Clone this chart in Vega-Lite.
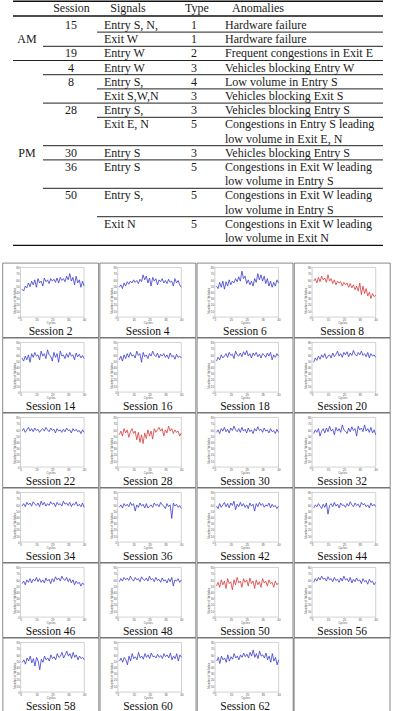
{
"$schema":"https://vega.github.io/schema/vega-lite/v6.json",
"padding":0,
"background":"white",
"spacing":-2.4,
"center":true,
"config":{
 "view":{"stroke":null},
 "font":"Liberation Serif",
 "header":{"labels":false,"labelExpr":"''","labelFontSize":0,"title":null,"labelPadding":0,"titlePadding":0},
 "headerFacet":{"labels":false,"labelExpr":"''","labelFontSize":0,"title":null,"labelPadding":0,"titlePadding":0},
 "axis":{"domain":false,"grid":false,"labelFontSize":3,"titleFontSize":3,"labelColor":"#555","titleColor":"#555","tickColor":"#999","tickSize":1,"tickWidth":0.5,"labelPadding":0.3,"titlePadding":0,"labelOverlap":false,"labelFlush":false,"titleFontWeight":"normal","labelFont":"Liberation Sans","titleFont":"Liberation Sans"},
 "axisX":{"offset":-20.3},
 "axisY":{"offset":-17.9}
},
"datasets":{
"tab":[
{"r":-1,"s":"Session","g":"Signals","t":"Type","a":"Anomalies"},
{"r":0,"s":"15","g":"Entry S, N,","t":"1","a":"Hardware failure"},
{"r":1,"p":"AM","g":"Exit W","t":"1","a":"Hardware failure","rule":"signal"},
{"r":2,"s":"19","g":"Entry W","t":"2","a":"Frequent congestions in Exit E","rule":"session"},
{"r":3,"s":"4","g":"Entry W","t":"3","a":"Vehicles blocking Entry W","rule":"full"},
{"r":4,"s":"8","g":"Entry S,","t":"4","a":"Low volume in Entry S","rule":"session"},
{"r":5,"g":"Exit S,W,N","t":"3","a":"Vehicles blocking Exit S","rule":"signal"},
{"r":6,"s":"28","g":"Entry S,","t":"3","a":"Vehicles blocking Entry S","rule":"session"},
{"r":7,"g":"Exit E, N","t":"5","a":"Congestions in Entry S leading","rule":"signal"},
{"r":8,"a":"low volume in Exit E, N"},
{"r":9,"p":"PM","s":"30","g":"Entry S","t":"3","a":"Vehicles blocking Entry S","rule":"session"},
{"r":10,"s":"36","g":"Entry S","t":"5","a":"Congestions in Exit W leading","rule":"session"},
{"r":11,"a":"low volume in Entry S"},
{"r":12,"s":"50","g":"Entry S,","t":"5","a":"Congestions in Exit W leading","rule":"session"},
{"r":13,"a":"low volume in Entry S"},
{"r":14,"g":"Exit N","t":"5","a":"Congestions in Exit W leading","rule":"signal"},
{"r":15,"a":"low volume in Exit N"}
],
"sess":[
{"n":2,"lab":"Session 2","st":"normal"},{"n":4,"lab":"Session 4","st":"normal"},{"n":6,"lab":"Session 6","st":"normal"},{"n":8,"lab":"Session 8","st":"anomaly"},
{"n":14,"lab":"Session 14","st":"normal"},{"n":16,"lab":"Session 16","st":"normal"},{"n":18,"lab":"Session 18","st":"normal"},{"n":20,"lab":"Session 20","st":"normal"},
{"n":22,"lab":"Session 22","st":"normal"},{"n":28,"lab":"Session 28","st":"anomaly"},{"n":30,"lab":"Session 30","st":"normal"},{"n":32,"lab":"Session 32","st":"normal"},
{"n":34,"lab":"Session 34","st":"normal"},{"n":36,"lab":"Session 36","st":"normal"},{"n":42,"lab":"Session 42","st":"normal"},{"n":44,"lab":"Session 44","st":"normal"},
{"n":46,"lab":"Session 46","st":"normal"},{"n":48,"lab":"Session 48","st":"normal"},{"n":50,"lab":"Session 50","st":"anomaly"},{"n":56,"lab":"Session 56","st":"normal"},
{"n":58,"lab":"Session 58","st":"normal"},{"n":60,"lab":"Session 60","st":"normal"},{"n":62,"lab":"Session 62","st":"normal"}
],
"ts":[
{"n":2,"x":1,"y":45},{"n":2,"x":2,"y":42},{"n":2,"x":3,"y":50},{"n":2,"x":4,"y":47},{"n":2,"x":5,"y":55},{"n":2,"x":6,"y":49},{"n":2,"x":7,"y":58},{"n":2,"x":8,"y":52},{"n":2,"x":9,"y":60},{"n":2,"x":10,"y":48},
{"n":2,"x":11,"y":62},{"n":2,"x":12,"y":55},{"n":2,"x":13,"y":58},{"n":2,"x":14,"y":50},{"n":2,"x":15,"y":63},{"n":2,"x":16,"y":57},{"n":2,"x":17,"y":60},{"n":2,"x":18,"y":54},{"n":2,"x":19,"y":62},{"n":2,"x":20,"y":58},
{"n":2,"x":21,"y":61},{"n":2,"x":22,"y":56},{"n":2,"x":23,"y":63},{"n":2,"x":24,"y":55},{"n":2,"x":25,"y":64},{"n":2,"x":26,"y":59},{"n":2,"x":27,"y":62},{"n":2,"x":28,"y":57},{"n":2,"x":29,"y":66},{"n":2,"x":30,"y":60},
{"n":2,"x":31,"y":70},{"n":2,"x":32,"y":58},{"n":2,"x":33,"y":64},{"n":2,"x":34,"y":52},{"n":2,"x":35,"y":66},{"n":2,"x":36,"y":55},{"n":2,"x":37,"y":60},{"n":2,"x":38,"y":48},{"n":2,"x":39,"y":58},{"n":2,"x":40,"y":50},
{"n":4,"x":1,"y":48},{"n":4,"x":2,"y":52},{"n":4,"x":3,"y":46},{"n":4,"x":4,"y":55},{"n":4,"x":5,"y":50},{"n":4,"x":6,"y":57},{"n":4,"x":7,"y":53},{"n":4,"x":8,"y":58},{"n":4,"x":9,"y":55},{"n":4,"x":10,"y":60},
{"n":4,"x":11,"y":56},{"n":4,"x":12,"y":59},{"n":4,"x":13,"y":54},{"n":4,"x":14,"y":61},{"n":4,"x":15,"y":57},{"n":4,"x":16,"y":68},{"n":4,"x":17,"y":60},{"n":4,"x":18,"y":66},{"n":4,"x":19,"y":55},{"n":4,"x":20,"y":63},
{"n":4,"x":21,"y":50},{"n":4,"x":22,"y":64},{"n":4,"x":23,"y":58},{"n":4,"x":24,"y":62},{"n":4,"x":25,"y":52},{"n":4,"x":26,"y":60},{"n":4,"x":27,"y":57},{"n":4,"x":28,"y":62},{"n":4,"x":29,"y":55},{"n":4,"x":30,"y":59},
{"n":4,"x":31,"y":54},{"n":4,"x":32,"y":61},{"n":4,"x":33,"y":56},{"n":4,"x":34,"y":58},{"n":4,"x":35,"y":50},{"n":4,"x":36,"y":62},{"n":4,"x":37,"y":55},{"n":4,"x":38,"y":59},{"n":4,"x":39,"y":52},{"n":4,"x":40,"y":48},
{"n":6,"x":1,"y":50},{"n":6,"x":2,"y":46},{"n":6,"x":3,"y":56},{"n":6,"x":4,"y":48},{"n":6,"x":5,"y":58},{"n":6,"x":6,"y":45},{"n":6,"x":7,"y":57},{"n":6,"x":8,"y":50},{"n":6,"x":9,"y":60},{"n":6,"x":10,"y":52},
{"n":6,"x":11,"y":58},{"n":6,"x":12,"y":55},{"n":6,"x":13,"y":62},{"n":6,"x":14,"y":57},{"n":6,"x":15,"y":65},{"n":6,"x":16,"y":58},{"n":6,"x":17,"y":74},{"n":6,"x":18,"y":62},{"n":6,"x":19,"y":66},{"n":6,"x":20,"y":54},
{"n":6,"x":21,"y":60},{"n":6,"x":22,"y":52},{"n":6,"x":23,"y":58},{"n":6,"x":24,"y":50},{"n":6,"x":25,"y":62},{"n":6,"x":26,"y":56},{"n":6,"x":27,"y":70},{"n":6,"x":28,"y":60},{"n":6,"x":29,"y":68},{"n":6,"x":30,"y":58},
{"n":6,"x":31,"y":66},{"n":6,"x":32,"y":54},{"n":6,"x":33,"y":62},{"n":6,"x":34,"y":50},{"n":6,"x":35,"y":58},{"n":6,"x":36,"y":48},{"n":6,"x":37,"y":56},{"n":6,"x":38,"y":50},{"n":6,"x":39,"y":60},{"n":6,"x":40,"y":55},
{"n":8,"x":1,"y":58},{"n":8,"x":2,"y":62},{"n":8,"x":3,"y":55},{"n":8,"x":4,"y":64},{"n":8,"x":5,"y":57},{"n":8,"x":6,"y":66},{"n":8,"x":7,"y":60},{"n":8,"x":8,"y":63},{"n":8,"x":9,"y":56},{"n":8,"x":10,"y":68},
{"n":8,"x":11,"y":58},{"n":8,"x":12,"y":62},{"n":8,"x":13,"y":54},{"n":8,"x":14,"y":60},{"n":8,"x":15,"y":52},{"n":8,"x":16,"y":58},{"n":8,"x":17,"y":55},{"n":8,"x":18,"y":57},{"n":8,"x":19,"y":50},{"n":8,"x":20,"y":56},
{"n":8,"x":21,"y":52},{"n":8,"x":22,"y":55},{"n":8,"x":23,"y":48},{"n":8,"x":24,"y":54},{"n":8,"x":25,"y":47},{"n":8,"x":26,"y":52},{"n":8,"x":27,"y":44},{"n":8,"x":28,"y":50},{"n":8,"x":29,"y":42},{"n":8,"x":30,"y":55},
{"n":8,"x":31,"y":36},{"n":8,"x":32,"y":50},{"n":8,"x":33,"y":38},{"n":8,"x":34,"y":46},{"n":8,"x":35,"y":34},{"n":8,"x":36,"y":40},{"n":8,"x":37,"y":30},{"n":8,"x":38,"y":38},{"n":8,"x":39,"y":33},{"n":8,"x":40,"y":35},
{"n":14,"x":1,"y":55},{"n":14,"x":2,"y":50},{"n":14,"x":3,"y":58},{"n":14,"x":4,"y":52},{"n":14,"x":5,"y":60},{"n":14,"x":6,"y":48},{"n":14,"x":7,"y":62},{"n":14,"x":8,"y":56},{"n":14,"x":9,"y":64},{"n":14,"x":10,"y":58},
{"n":14,"x":11,"y":60},{"n":14,"x":12,"y":52},{"n":14,"x":13,"y":66},{"n":14,"x":14,"y":58},{"n":14,"x":15,"y":62},{"n":14,"x":16,"y":54},{"n":14,"x":17,"y":68},{"n":14,"x":18,"y":60},{"n":14,"x":19,"y":58},{"n":14,"x":20,"y":50},
{"n":14,"x":21,"y":64},{"n":14,"x":22,"y":56},{"n":14,"x":23,"y":62},{"n":14,"x":24,"y":48},{"n":14,"x":25,"y":66},{"n":14,"x":26,"y":58},{"n":14,"x":27,"y":60},{"n":14,"x":28,"y":54},{"n":14,"x":29,"y":62},{"n":14,"x":30,"y":56},
{"n":14,"x":31,"y":64},{"n":14,"x":32,"y":58},{"n":14,"x":33,"y":60},{"n":14,"x":34,"y":52},{"n":14,"x":35,"y":63},{"n":14,"x":36,"y":57},{"n":14,"x":37,"y":61},{"n":14,"x":38,"y":55},{"n":14,"x":39,"y":59},{"n":14,"x":40,"y":54},
{"n":16,"x":1,"y":52},{"n":16,"x":2,"y":58},{"n":16,"x":3,"y":50},{"n":16,"x":4,"y":60},{"n":16,"x":5,"y":54},{"n":16,"x":6,"y":62},{"n":16,"x":7,"y":56},{"n":16,"x":8,"y":64},{"n":16,"x":9,"y":58},{"n":16,"x":10,"y":60},
{"n":16,"x":11,"y":55},{"n":16,"x":12,"y":66},{"n":16,"x":13,"y":59},{"n":16,"x":14,"y":62},{"n":16,"x":15,"y":48},{"n":16,"x":16,"y":64},{"n":16,"x":17,"y":57},{"n":16,"x":18,"y":60},{"n":16,"x":19,"y":54},{"n":16,"x":20,"y":62},
{"n":16,"x":21,"y":58},{"n":16,"x":22,"y":66},{"n":16,"x":23,"y":60},{"n":16,"x":24,"y":57},{"n":16,"x":25,"y":63},{"n":16,"x":26,"y":55},{"n":16,"x":27,"y":61},{"n":16,"x":28,"y":58},{"n":16,"x":29,"y":62},{"n":16,"x":30,"y":56},
{"n":16,"x":31,"y":60},{"n":16,"x":32,"y":54},{"n":16,"x":33,"y":63},{"n":16,"x":34,"y":57},{"n":16,"x":35,"y":59},{"n":16,"x":36,"y":53},{"n":16,"x":37,"y":61},{"n":16,"x":38,"y":56},{"n":16,"x":39,"y":58},{"n":16,"x":40,"y":55},
{"n":18,"x":1,"y":50},{"n":18,"x":2,"y":56},{"n":18,"x":3,"y":52},{"n":18,"x":4,"y":60},{"n":18,"x":5,"y":55},{"n":18,"x":6,"y":58},{"n":18,"x":7,"y":62},{"n":18,"x":8,"y":56},{"n":18,"x":9,"y":64},{"n":18,"x":10,"y":59},
{"n":18,"x":11,"y":61},{"n":18,"x":12,"y":54},{"n":18,"x":13,"y":66},{"n":18,"x":14,"y":60},{"n":18,"x":15,"y":58},{"n":18,"x":16,"y":63},{"n":18,"x":17,"y":57},{"n":18,"x":18,"y":65},{"n":18,"x":19,"y":60},{"n":18,"x":20,"y":67},
{"n":18,"x":21,"y":58},{"n":18,"x":22,"y":62},{"n":18,"x":23,"y":55},{"n":18,"x":24,"y":63},{"n":18,"x":25,"y":59},{"n":18,"x":26,"y":64},{"n":18,"x":27,"y":57},{"n":18,"x":28,"y":61},{"n":18,"x":29,"y":55},{"n":18,"x":30,"y":62},
{"n":18,"x":31,"y":60},{"n":18,"x":32,"y":56},{"n":18,"x":33,"y":63},{"n":18,"x":34,"y":58},{"n":18,"x":35,"y":64},{"n":18,"x":36,"y":52},{"n":18,"x":37,"y":60},{"n":18,"x":38,"y":56},{"n":18,"x":39,"y":62},{"n":18,"x":40,"y":58},
{"n":20,"x":1,"y":48},{"n":20,"x":2,"y":55},{"n":20,"x":3,"y":51},{"n":20,"x":4,"y":58},{"n":20,"x":5,"y":53},{"n":20,"x":6,"y":60},{"n":20,"x":7,"y":56},{"n":20,"x":8,"y":62},{"n":20,"x":9,"y":54},{"n":20,"x":10,"y":58},
{"n":20,"x":11,"y":60},{"n":20,"x":12,"y":55},{"n":20,"x":13,"y":63},{"n":20,"x":14,"y":57},{"n":20,"x":15,"y":61},{"n":20,"x":16,"y":66},{"n":20,"x":17,"y":58},{"n":20,"x":18,"y":62},{"n":20,"x":19,"y":56},{"n":20,"x":20,"y":64},
{"n":20,"x":21,"y":60},{"n":20,"x":22,"y":65},{"n":20,"x":23,"y":57},{"n":20,"x":24,"y":63},{"n":20,"x":25,"y":59},{"n":20,"x":26,"y":67},{"n":20,"x":27,"y":61},{"n":20,"x":28,"y":58},{"n":20,"x":29,"y":64},{"n":20,"x":30,"y":60},
{"n":20,"x":31,"y":66},{"n":20,"x":32,"y":59},{"n":20,"x":33,"y":62},{"n":20,"x":34,"y":57},{"n":20,"x":35,"y":64},{"n":20,"x":36,"y":55},{"n":20,"x":37,"y":62},{"n":20,"x":38,"y":58},{"n":20,"x":39,"y":60},{"n":20,"x":40,"y":56},
{"n":22,"x":1,"y":58},{"n":22,"x":2,"y":62},{"n":22,"x":3,"y":56},{"n":22,"x":4,"y":60},{"n":22,"x":5,"y":64},{"n":22,"x":6,"y":58},{"n":22,"x":7,"y":62},{"n":22,"x":8,"y":57},{"n":22,"x":9,"y":63},{"n":22,"x":10,"y":59},
{"n":22,"x":11,"y":61},{"n":22,"x":12,"y":56},{"n":22,"x":13,"y":60},{"n":22,"x":14,"y":62},{"n":22,"x":15,"y":58},{"n":22,"x":16,"y":64},{"n":22,"x":17,"y":60},{"n":22,"x":18,"y":57},{"n":22,"x":19,"y":63},{"n":22,"x":20,"y":59},
{"n":22,"x":21,"y":61},{"n":22,"x":22,"y":55},{"n":22,"x":23,"y":62},{"n":22,"x":24,"y":58},{"n":22,"x":25,"y":60},{"n":22,"x":26,"y":56},{"n":22,"x":27,"y":61},{"n":22,"x":28,"y":57},{"n":22,"x":29,"y":63},{"n":22,"x":30,"y":59},
{"n":22,"x":31,"y":60},{"n":22,"x":32,"y":55},{"n":22,"x":33,"y":62},{"n":22,"x":34,"y":58},{"n":22,"x":35,"y":61},{"n":22,"x":36,"y":57},{"n":22,"x":37,"y":59},{"n":22,"x":38,"y":54},{"n":22,"x":39,"y":60},{"n":22,"x":40,"y":56},
{"n":28,"x":1,"y":52},{"n":28,"x":2,"y":58},{"n":28,"x":3,"y":50},{"n":28,"x":4,"y":62},{"n":28,"x":5,"y":55},{"n":28,"x":6,"y":60},{"n":28,"x":7,"y":48},{"n":28,"x":8,"y":57},{"n":28,"x":9,"y":62},{"n":28,"x":10,"y":54},
{"n":28,"x":11,"y":58},{"n":28,"x":12,"y":44},{"n":28,"x":13,"y":56},{"n":28,"x":14,"y":40},{"n":28,"x":15,"y":52},{"n":28,"x":16,"y":38},{"n":28,"x":17,"y":55},{"n":28,"x":18,"y":46},{"n":28,"x":19,"y":60},{"n":28,"x":20,"y":50},
{"n":28,"x":21,"y":58},{"n":28,"x":22,"y":45},{"n":28,"x":23,"y":62},{"n":28,"x":24,"y":56},{"n":28,"x":25,"y":60},{"n":28,"x":26,"y":64},{"n":28,"x":27,"y":58},{"n":28,"x":28,"y":62},{"n":28,"x":29,"y":50},{"n":28,"x":30,"y":60},
{"n":28,"x":31,"y":55},{"n":28,"x":32,"y":66},{"n":28,"x":33,"y":58},{"n":28,"x":34,"y":62},{"n":28,"x":35,"y":54},{"n":28,"x":36,"y":60},{"n":28,"x":37,"y":56},{"n":28,"x":38,"y":58},{"n":28,"x":39,"y":50},{"n":28,"x":40,"y":55},
{"n":30,"x":1,"y":56},{"n":30,"x":2,"y":60},{"n":30,"x":3,"y":54},{"n":30,"x":4,"y":62},{"n":30,"x":5,"y":58},{"n":30,"x":6,"y":64},{"n":30,"x":7,"y":57},{"n":30,"x":8,"y":61},{"n":30,"x":9,"y":55},{"n":30,"x":10,"y":63},
{"n":30,"x":11,"y":59},{"n":30,"x":12,"y":66},{"n":30,"x":13,"y":60},{"n":30,"x":14,"y":57},{"n":30,"x":15,"y":62},{"n":30,"x":16,"y":56},{"n":30,"x":17,"y":64},{"n":30,"x":18,"y":58},{"n":30,"x":19,"y":61},{"n":30,"x":20,"y":55},
{"n":30,"x":21,"y":63},{"n":30,"x":22,"y":57},{"n":30,"x":23,"y":60},{"n":30,"x":24,"y":54},{"n":30,"x":25,"y":62},{"n":30,"x":26,"y":58},{"n":30,"x":27,"y":65},{"n":30,"x":28,"y":59},{"n":30,"x":29,"y":61},{"n":30,"x":30,"y":56},
{"n":30,"x":31,"y":63},{"n":30,"x":32,"y":58},{"n":30,"x":33,"y":60},{"n":30,"x":34,"y":55},{"n":30,"x":35,"y":62},{"n":30,"x":36,"y":57},{"n":30,"x":37,"y":59},{"n":30,"x":38,"y":54},{"n":30,"x":39,"y":61},{"n":30,"x":40,"y":56},
{"n":32,"x":1,"y":54},{"n":32,"x":2,"y":60},{"n":32,"x":3,"y":56},{"n":32,"x":4,"y":62},{"n":32,"x":5,"y":50},{"n":32,"x":6,"y":58},{"n":32,"x":7,"y":62},{"n":32,"x":8,"y":55},{"n":32,"x":9,"y":63},{"n":32,"x":10,"y":57},
{"n":32,"x":11,"y":66},{"n":32,"x":12,"y":58},{"n":32,"x":13,"y":61},{"n":32,"x":14,"y":52},{"n":32,"x":15,"y":64},{"n":32,"x":16,"y":58},{"n":32,"x":17,"y":62},{"n":32,"x":18,"y":56},{"n":32,"x":19,"y":68},{"n":32,"x":20,"y":60},
{"n":32,"x":21,"y":58},{"n":32,"x":22,"y":54},{"n":32,"x":23,"y":63},{"n":32,"x":24,"y":57},{"n":32,"x":25,"y":65},{"n":32,"x":26,"y":59},{"n":32,"x":27,"y":62},{"n":32,"x":28,"y":50},{"n":32,"x":29,"y":66},{"n":32,"x":30,"y":60},
{"n":32,"x":31,"y":63},{"n":32,"x":32,"y":57},{"n":32,"x":33,"y":68},{"n":32,"x":34,"y":58},{"n":32,"x":35,"y":62},{"n":32,"x":36,"y":56},{"n":32,"x":37,"y":64},{"n":32,"x":38,"y":55},{"n":32,"x":39,"y":60},{"n":32,"x":40,"y":52},
{"n":34,"x":1,"y":58},{"n":34,"x":2,"y":62},{"n":34,"x":3,"y":57},{"n":34,"x":4,"y":64},{"n":34,"x":5,"y":60},{"n":34,"x":6,"y":63},{"n":34,"x":7,"y":58},{"n":34,"x":8,"y":65},{"n":34,"x":9,"y":61},{"n":34,"x":10,"y":59},
{"n":34,"x":11,"y":63},{"n":34,"x":12,"y":57},{"n":34,"x":13,"y":66},{"n":34,"x":14,"y":60},{"n":34,"x":15,"y":64},{"n":34,"x":16,"y":58},{"n":34,"x":17,"y":62},{"n":34,"x":18,"y":59},{"n":34,"x":19,"y":65},{"n":34,"x":20,"y":61},
{"n":34,"x":21,"y":63},{"n":34,"x":22,"y":57},{"n":34,"x":23,"y":64},{"n":34,"x":24,"y":60},{"n":34,"x":25,"y":62},{"n":34,"x":26,"y":58},{"n":34,"x":27,"y":66},{"n":34,"x":28,"y":61},{"n":34,"x":29,"y":63},{"n":34,"x":30,"y":59},
{"n":34,"x":31,"y":64},{"n":34,"x":32,"y":57},{"n":34,"x":33,"y":62},{"n":34,"x":34,"y":60},{"n":34,"x":35,"y":65},{"n":34,"x":36,"y":58},{"n":34,"x":37,"y":61},{"n":34,"x":38,"y":57},{"n":34,"x":39,"y":63},{"n":34,"x":40,"y":56},
{"n":36,"x":1,"y":56},{"n":36,"x":2,"y":60},{"n":36,"x":3,"y":55},{"n":36,"x":4,"y":62},{"n":36,"x":5,"y":58},{"n":36,"x":6,"y":61},{"n":36,"x":7,"y":57},{"n":36,"x":8,"y":64},{"n":36,"x":9,"y":59},{"n":36,"x":10,"y":62},
{"n":36,"x":11,"y":50},{"n":36,"x":12,"y":60},{"n":36,"x":13,"y":56},{"n":36,"x":14,"y":63},{"n":36,"x":15,"y":58},{"n":36,"x":16,"y":61},{"n":36,"x":17,"y":55},{"n":36,"x":18,"y":62},{"n":36,"x":19,"y":55},{"n":36,"x":20,"y":58},
{"n":36,"x":21,"y":60},{"n":36,"x":22,"y":56},{"n":36,"x":23,"y":63},{"n":36,"x":24,"y":59},{"n":36,"x":25,"y":61},{"n":36,"x":26,"y":57},{"n":36,"x":27,"y":64},{"n":36,"x":28,"y":60},{"n":36,"x":29,"y":58},{"n":36,"x":30,"y":54},
{"n":36,"x":31,"y":62},{"n":36,"x":32,"y":57},{"n":36,"x":33,"y":60},{"n":36,"x":34,"y":38},{"n":36,"x":35,"y":63},{"n":36,"x":36,"y":58},{"n":36,"x":37,"y":61},{"n":36,"x":38,"y":56},{"n":36,"x":39,"y":59},{"n":36,"x":40,"y":54},
{"n":42,"x":1,"y":58},{"n":42,"x":2,"y":54},{"n":42,"x":3,"y":62},{"n":42,"x":4,"y":56},{"n":42,"x":5,"y":60},{"n":42,"x":6,"y":64},{"n":42,"x":7,"y":57},{"n":42,"x":8,"y":62},{"n":42,"x":9,"y":55},{"n":42,"x":10,"y":63},
{"n":42,"x":11,"y":59},{"n":42,"x":12,"y":66},{"n":42,"x":13,"y":52},{"n":42,"x":14,"y":61},{"n":42,"x":15,"y":57},{"n":42,"x":16,"y":64},{"n":42,"x":17,"y":58},{"n":42,"x":18,"y":62},{"n":42,"x":19,"y":56},{"n":42,"x":20,"y":60},
{"n":42,"x":21,"y":54},{"n":42,"x":22,"y":63},{"n":42,"x":23,"y":58},{"n":42,"x":24,"y":61},{"n":42,"x":25,"y":50},{"n":42,"x":26,"y":62},{"n":42,"x":27,"y":57},{"n":42,"x":28,"y":64},{"n":42,"x":29,"y":59},{"n":42,"x":30,"y":62},
{"n":42,"x":31,"y":56},{"n":42,"x":32,"y":60},{"n":42,"x":33,"y":58},{"n":42,"x":34,"y":63},{"n":42,"x":35,"y":55},{"n":42,"x":36,"y":61},{"n":42,"x":37,"y":57},{"n":42,"x":38,"y":59},{"n":42,"x":39,"y":54},{"n":42,"x":40,"y":58},
{"n":44,"x":1,"y":55},{"n":44,"x":2,"y":60},{"n":44,"x":3,"y":57},{"n":44,"x":4,"y":62},{"n":44,"x":5,"y":58},{"n":44,"x":6,"y":54},{"n":44,"x":7,"y":61},{"n":44,"x":8,"y":56},{"n":44,"x":9,"y":63},{"n":44,"x":10,"y":45},
{"n":44,"x":11,"y":59},{"n":44,"x":12,"y":62},{"n":44,"x":13,"y":57},{"n":44,"x":14,"y":64},{"n":44,"x":15,"y":58},{"n":44,"x":16,"y":61},{"n":44,"x":17,"y":55},{"n":44,"x":18,"y":63},{"n":44,"x":19,"y":59},{"n":44,"x":20,"y":60},
{"n":44,"x":21,"y":56},{"n":44,"x":22,"y":62},{"n":44,"x":23,"y":58},{"n":44,"x":24,"y":65},{"n":44,"x":25,"y":60},{"n":44,"x":26,"y":57},{"n":44,"x":27,"y":63},{"n":44,"x":28,"y":59},{"n":44,"x":29,"y":61},{"n":44,"x":30,"y":56},
{"n":44,"x":31,"y":64},{"n":44,"x":32,"y":60},{"n":44,"x":33,"y":62},{"n":44,"x":34,"y":57},{"n":44,"x":35,"y":60},{"n":44,"x":36,"y":55},{"n":44,"x":37,"y":63},{"n":44,"x":38,"y":58},{"n":44,"x":39,"y":61},{"n":44,"x":40,"y":57},
{"n":46,"x":1,"y":54},{"n":46,"x":2,"y":58},{"n":46,"x":3,"y":52},{"n":46,"x":4,"y":60},{"n":46,"x":5,"y":56},{"n":46,"x":6,"y":62},{"n":46,"x":7,"y":55},{"n":46,"x":8,"y":61},{"n":46,"x":9,"y":58},{"n":46,"x":10,"y":64},
{"n":46,"x":11,"y":57},{"n":46,"x":12,"y":62},{"n":46,"x":13,"y":56},{"n":46,"x":14,"y":60},{"n":46,"x":15,"y":55},{"n":46,"x":16,"y":63},{"n":46,"x":17,"y":58},{"n":46,"x":18,"y":61},{"n":46,"x":19,"y":54},{"n":46,"x":20,"y":62},
{"n":46,"x":21,"y":57},{"n":46,"x":22,"y":65},{"n":46,"x":23,"y":60},{"n":46,"x":24,"y":63},{"n":46,"x":25,"y":58},{"n":46,"x":26,"y":66},{"n":46,"x":27,"y":61},{"n":46,"x":28,"y":59},{"n":46,"x":29,"y":64},{"n":46,"x":30,"y":57},
{"n":46,"x":31,"y":62},{"n":46,"x":32,"y":55},{"n":46,"x":33,"y":60},{"n":46,"x":34,"y":52},{"n":46,"x":35,"y":58},{"n":46,"x":36,"y":54},{"n":46,"x":37,"y":56},{"n":46,"x":38,"y":50},{"n":46,"x":39,"y":55},{"n":46,"x":40,"y":52},
{"n":48,"x":1,"y":57},{"n":48,"x":2,"y":62},{"n":48,"x":3,"y":58},{"n":48,"x":4,"y":64},{"n":48,"x":5,"y":60},{"n":48,"x":6,"y":63},{"n":48,"x":7,"y":59},{"n":48,"x":8,"y":66},{"n":48,"x":9,"y":61},{"n":48,"x":10,"y":58},
{"n":48,"x":11,"y":64},{"n":48,"x":12,"y":60},{"n":48,"x":13,"y":62},{"n":48,"x":14,"y":57},{"n":48,"x":15,"y":65},{"n":48,"x":16,"y":61},{"n":48,"x":17,"y":59},{"n":48,"x":18,"y":63},{"n":48,"x":19,"y":58},{"n":48,"x":20,"y":66},
{"n":48,"x":21,"y":60},{"n":48,"x":22,"y":62},{"n":48,"x":23,"y":57},{"n":48,"x":24,"y":64},{"n":48,"x":25,"y":59},{"n":48,"x":26,"y":61},{"n":48,"x":27,"y":56},{"n":48,"x":28,"y":63},{"n":48,"x":29,"y":58},{"n":48,"x":30,"y":60},
{"n":48,"x":31,"y":55},{"n":48,"x":32,"y":62},{"n":48,"x":33,"y":57},{"n":48,"x":34,"y":64},{"n":48,"x":35,"y":50},{"n":48,"x":36,"y":60},{"n":48,"x":37,"y":58},{"n":48,"x":38,"y":62},{"n":48,"x":39,"y":56},{"n":48,"x":40,"y":60},
{"n":50,"x":1,"y":50},{"n":50,"x":2,"y":56},{"n":50,"x":3,"y":48},{"n":50,"x":4,"y":60},{"n":50,"x":5,"y":52},{"n":50,"x":6,"y":58},{"n":50,"x":7,"y":46},{"n":50,"x":8,"y":62},{"n":50,"x":9,"y":54},{"n":50,"x":10,"y":57},
{"n":50,"x":11,"y":44},{"n":50,"x":12,"y":60},{"n":50,"x":13,"y":52},{"n":50,"x":14,"y":64},{"n":50,"x":15,"y":55},{"n":50,"x":16,"y":58},{"n":50,"x":17,"y":48},{"n":50,"x":18,"y":62},{"n":50,"x":19,"y":56},{"n":50,"x":20,"y":60},
{"n":50,"x":21,"y":50},{"n":50,"x":22,"y":63},{"n":50,"x":23,"y":54},{"n":50,"x":24,"y":58},{"n":50,"x":25,"y":46},{"n":50,"x":26,"y":60},{"n":50,"x":27,"y":52},{"n":50,"x":28,"y":57},{"n":50,"x":29,"y":48},{"n":50,"x":30,"y":62},
{"n":50,"x":31,"y":55},{"n":50,"x":32,"y":58},{"n":50,"x":33,"y":50},{"n":50,"x":34,"y":60},{"n":50,"x":35,"y":54},{"n":50,"x":36,"y":56},{"n":50,"x":37,"y":48},{"n":50,"x":38,"y":58},{"n":50,"x":39,"y":52},{"n":50,"x":40,"y":55},
{"n":56,"x":1,"y":56},{"n":56,"x":2,"y":62},{"n":56,"x":3,"y":58},{"n":56,"x":4,"y":64},{"n":56,"x":5,"y":60},{"n":56,"x":6,"y":66},{"n":56,"x":7,"y":61},{"n":56,"x":8,"y":63},{"n":56,"x":9,"y":58},{"n":56,"x":10,"y":65},
{"n":56,"x":11,"y":60},{"n":56,"x":12,"y":62},{"n":56,"x":13,"y":57},{"n":56,"x":14,"y":64},{"n":56,"x":15,"y":59},{"n":56,"x":16,"y":61},{"n":56,"x":17,"y":56},{"n":56,"x":18,"y":63},{"n":56,"x":19,"y":58},{"n":56,"x":20,"y":66},
{"n":56,"x":21,"y":60},{"n":56,"x":22,"y":62},{"n":56,"x":23,"y":57},{"n":56,"x":24,"y":64},{"n":56,"x":25,"y":55},{"n":56,"x":26,"y":61},{"n":56,"x":27,"y":57},{"n":56,"x":28,"y":63},{"n":56,"x":29,"y":58},{"n":56,"x":30,"y":60},
{"n":56,"x":31,"y":54},{"n":56,"x":32,"y":62},{"n":56,"x":33,"y":57},{"n":56,"x":34,"y":59},{"n":56,"x":35,"y":53},{"n":56,"x":36,"y":61},{"n":56,"x":37,"y":56},{"n":56,"x":38,"y":58},{"n":56,"x":39,"y":52},{"n":56,"x":40,"y":56},
{"n":58,"x":1,"y":48},{"n":58,"x":2,"y":52},{"n":58,"x":3,"y":45},{"n":58,"x":4,"y":55},{"n":58,"x":5,"y":50},{"n":58,"x":6,"y":58},{"n":58,"x":7,"y":47},{"n":58,"x":8,"y":54},{"n":58,"x":9,"y":42},{"n":58,"x":10,"y":56},
{"n":58,"x":11,"y":50},{"n":58,"x":12,"y":36},{"n":58,"x":13,"y":53},{"n":58,"x":14,"y":48},{"n":58,"x":15,"y":58},{"n":58,"x":16,"y":52},{"n":58,"x":17,"y":55},{"n":58,"x":18,"y":50},{"n":58,"x":19,"y":60},{"n":58,"x":20,"y":54},
{"n":58,"x":21,"y":57},{"n":58,"x":22,"y":52},{"n":58,"x":23,"y":62},{"n":58,"x":24,"y":56},{"n":58,"x":25,"y":58},{"n":58,"x":26,"y":64},{"n":58,"x":27,"y":55},{"n":58,"x":28,"y":60},{"n":58,"x":29,"y":66},{"n":58,"x":30,"y":58},
{"n":58,"x":31,"y":62},{"n":58,"x":32,"y":54},{"n":58,"x":33,"y":64},{"n":58,"x":34,"y":56},{"n":58,"x":35,"y":60},{"n":58,"x":36,"y":52},{"n":58,"x":37,"y":58},{"n":58,"x":38,"y":54},{"n":58,"x":39,"y":56},{"n":58,"x":40,"y":52},
{"n":60,"x":1,"y":50},{"n":60,"x":2,"y":55},{"n":60,"x":3,"y":48},{"n":60,"x":4,"y":56},{"n":60,"x":5,"y":52},{"n":60,"x":6,"y":44},{"n":60,"x":7,"y":58},{"n":60,"x":8,"y":50},{"n":60,"x":9,"y":62},{"n":60,"x":10,"y":54},
{"n":60,"x":11,"y":57},{"n":60,"x":12,"y":52},{"n":60,"x":13,"y":64},{"n":60,"x":14,"y":55},{"n":60,"x":15,"y":58},{"n":60,"x":16,"y":53},{"n":60,"x":17,"y":62},{"n":60,"x":18,"y":56},{"n":60,"x":19,"y":60},{"n":60,"x":20,"y":54},
{"n":60,"x":21,"y":63},{"n":60,"x":22,"y":57},{"n":60,"x":23,"y":58},{"n":60,"x":24,"y":55},{"n":60,"x":25,"y":61},{"n":60,"x":26,"y":56},{"n":60,"x":27,"y":59},{"n":60,"x":28,"y":54},{"n":60,"x":29,"y":62},{"n":60,"x":30,"y":57},
{"n":60,"x":31,"y":60},{"n":60,"x":32,"y":55},{"n":60,"x":33,"y":63},{"n":60,"x":34,"y":52},{"n":60,"x":35,"y":58},{"n":60,"x":36,"y":54},{"n":60,"x":37,"y":62},{"n":60,"x":38,"y":50},{"n":60,"x":39,"y":60},{"n":60,"x":40,"y":56},
{"n":62,"x":1,"y":50},{"n":62,"x":2,"y":56},{"n":62,"x":3,"y":46},{"n":62,"x":4,"y":58},{"n":62,"x":5,"y":52},{"n":62,"x":6,"y":55},{"n":62,"x":7,"y":48},{"n":62,"x":8,"y":60},{"n":62,"x":9,"y":50},{"n":62,"x":10,"y":57},
{"n":62,"x":11,"y":53},{"n":62,"x":12,"y":62},{"n":62,"x":13,"y":55},{"n":62,"x":14,"y":58},{"n":62,"x":15,"y":52},{"n":62,"x":16,"y":60},{"n":62,"x":17,"y":56},{"n":62,"x":18,"y":63},{"n":62,"x":19,"y":57},{"n":62,"x":20,"y":61},
{"n":62,"x":21,"y":55},{"n":62,"x":22,"y":64},{"n":62,"x":23,"y":58},{"n":62,"x":24,"y":68},{"n":62,"x":25,"y":56},{"n":62,"x":26,"y":62},{"n":62,"x":27,"y":54},{"n":62,"x":28,"y":66},{"n":62,"x":29,"y":58},{"n":62,"x":30,"y":60},
{"n":62,"x":31,"y":55},{"n":62,"x":32,"y":63},{"n":62,"x":33,"y":52},{"n":62,"x":34,"y":58},{"n":62,"x":35,"y":48},{"n":62,"x":36,"y":62},{"n":62,"x":37,"y":50},{"n":62,"x":38,"y":56},{"n":62,"x":39,"y":44},{"n":62,"x":40,"y":52}
]
},
"vconcat":[
{
 "width":393,"height":262.4,
 "data":{"name":"tab"},
 "layer":[
  {"transform":[{"filter":"datum.r==-1"}],"mark":{"type":"rule","stroke":"#111","strokeWidth":1.5},
   "encoding":{"x":{"datum":13,"type":"quantitative","scale":{"domain":[0,393],"nice":false,"zero":false},"axis":null},"x2":{"datum":383},
   "y":{"datum":-1.68,"type":"quantitative","scale":{"domain":[-1.7606,16.718],"reverse":true,"nice":false,"zero":false},"axis":null}}},
  {"transform":[{"filter":"datum.r==-1"}],"mark":{"type":"rule","stroke":"#111","strokeWidth":1.5},
   "encoding":{"x":{"datum":13,"type":"quantitative"},"x2":{"datum":383},"y":{"datum":-0.64,"type":"quantitative"}}},
  {"transform":[{"filter":"datum.r==15"}],"mark":{"type":"rule","stroke":"#111","strokeWidth":1.2},
   "encoding":{"x":{"datum":13,"type":"quantitative"},"x2":{"datum":383},"y":{"datum":15.52,"type":"quantitative"}}},
  {"transform":[{"filter":"datum.rule=='full'"}],"mark":{"type":"rule","stroke":"#222","strokeWidth":1,"yOffset":-7.1},
   "encoding":{"x":{"datum":13,"type":"quantitative"},"x2":{"datum":383},"y":{"field":"r","type":"quantitative"}}},
  {"transform":[{"filter":"datum.rule=='session'"}],"mark":{"type":"rule","stroke":"#222","strokeWidth":1,"yOffset":-7.1},
   "encoding":{"x":{"datum":43,"type":"quantitative"},"x2":{"datum":383},"y":{"field":"r","type":"quantitative"}}},
  {"transform":[{"filter":"datum.rule=='signal'"}],"mark":{"type":"rule","stroke":"#222","strokeWidth":1,"yOffset":-7.1},
   "encoding":{"x":{"datum":97,"type":"quantitative"},"x2":{"datum":383},"y":{"field":"r","type":"quantitative"}}},
  {"transform":[{"filter":"isValid(datum.p)"}],"mark":{"type":"text","font":"Liberation Serif","fontSize":12,"align":"center","baseline":"middle","color":"#1a1a1a"},
   "encoding":{"x":{"datum":27,"type":"quantitative"},"y":{"field":"r","type":"quantitative"},"text":{"field":"p"}}},
  {"transform":[{"filter":"datum.r>=0 && isValid(datum.s)"}],"mark":{"type":"text","font":"Liberation Serif","fontSize":12,"align":"center","baseline":"middle","color":"#1a1a1a"},
   "encoding":{"x":{"datum":71,"type":"quantitative"},"y":{"field":"r","type":"quantitative"},"text":{"field":"s"}}},
  {"transform":[{"filter":"datum.r>=0 && isValid(datum.g)"}],"mark":{"type":"text","font":"Liberation Serif","fontSize":12,"align":"left","baseline":"middle","color":"#1a1a1a"},
   "encoding":{"x":{"datum":104,"type":"quantitative"},"y":{"field":"r","type":"quantitative"},"text":{"field":"g"}}},
  {"transform":[{"filter":"datum.r>=0 && isValid(datum.t)"}],"mark":{"type":"text","font":"Liberation Serif","fontSize":12,"align":"center","baseline":"middle","color":"#1a1a1a"},
   "encoding":{"x":{"datum":194,"type":"quantitative"},"y":{"field":"r","type":"quantitative"},"text":{"field":"t"}}},
  {"transform":[{"filter":"datum.r>=0"}],"mark":{"type":"text","font":"Liberation Serif","fontSize":12,"align":"left","baseline":"middle","color":"#1a1a1a"},
   "encoding":{"x":{"datum":225,"type":"quantitative"},"y":{"field":"r","type":"quantitative"},"text":{"field":"a"}}},
  {"transform":[{"filter":"datum.r==-1"}],"mark":{"type":"text","font":"Liberation Serif","fontSize":12,"align":"center","baseline":"middle","color":"#1a1a1a","yOffset":-2.5},
   "encoding":{"x":{"datum":71.5,"type":"quantitative"},"y":{"field":"r","type":"quantitative"},"text":{"field":"s"}}},
  {"transform":[{"filter":"datum.r==-1"}],"mark":{"type":"text","font":"Liberation Serif","fontSize":12,"align":"center","baseline":"middle","color":"#1a1a1a","yOffset":-2.5},
   "encoding":{"x":{"datum":128,"type":"quantitative"},"y":{"field":"r","type":"quantitative"},"text":{"field":"g"}}},
  {"transform":[{"filter":"datum.r==-1"}],"mark":{"type":"text","font":"Liberation Serif","fontSize":12,"align":"center","baseline":"middle","color":"#1a1a1a","yOffset":-2.5},
   "encoding":{"x":{"datum":197,"type":"quantitative"},"y":{"field":"r","type":"quantitative"},"text":{"field":"t"}}},
  {"transform":[{"filter":"datum.r==-1"}],"mark":{"type":"text","font":"Liberation Serif","fontSize":12,"align":"left","baseline":"middle","color":"#1a1a1a","yOffset":-2.5},
   "encoding":{"x":{"datum":232,"type":"quantitative"},"y":{"field":"r","type":"quantitative"},"text":{"field":"a"}}}
 ]
},
{
 "data":{"name":"ts"},
 "transform":[{"filter":"datum.n<=56"},{"lookup":"n","from":{"data":{"name":"sess"},"key":"n","fields":["lab","st"]}}],
 "columns":4,
 "spacing":{"row":-1.4,"column":-0.8},
 "facet":{"field":"n","type":"ordinal","title":null,"header":{"labels":false,"labelExpr":"''","labelFontSize":0,"labelPadding":0,"title":null}},
 "resolve":{"axis":{"x":"independent","y":"independent"}},
 "spec":{
  "width":95.9,"height":74.4,
  "view":{"stroke":"#3a3a3a","strokeWidth":0.6},
  "layer":[
   {"transform":[{"filter":"datum.x==1"}],"mark":{"type":"rect","fill":"white","stroke":"#b5b5b5","strokeWidth":0.6},
    "encoding":{"x":{"datum":0,"type":"quantitative","scale":{"domain":[-11.25,49.0625],"nice":false,"zero":false},"axis":{"values":[0,10,20,30,40],"title":"Cycles"}},"x2":{"datum":40},
    "y":{"datum":0,"type":"quantitative","scale":{"domain":[-32.8,87.2],"nice":false,"zero":false},"axis":{"values":[0,10,20,30,40,50,60,70,80],"title":"Number of Vehicles"}},"y2":{"datum":80}}},
   {"mark":{"type":"line","strokeWidth":0.8},
    "encoding":{"x":{"field":"x","type":"quantitative","axis":{"values":[0,10,20,30,40],"title":"Cycles"}},
    "y":{"field":"y","type":"quantitative","axis":{"values":[0,10,20,30,40,50,60,70,80],"title":"Number of Vehicles"}},
    "color":{"field":"st","type":"nominal","scale":{"domain":["normal","anomaly"],"range":["#3b3bd1","#d83a3a"]},"legend":null}}},
   {"transform":[{"filter":"datum.x==1"}],"mark":{"type":"text","font":"Liberation Serif","fontSize":11.5,"align":"center","baseline":"alphabetic","color":"#111"},
    "encoding":{"x":{"datum":18.9,"type":"quantitative","axis":{"values":[0,10,20,30,40],"title":"Cycles"}},"y":{"datum":-28.9,"type":"quantitative","axis":{"values":[0,10,20,30,40,50,60,70,80],"title":"Number of Vehicles"}},"text":{"field":"lab"}}}
  ]
 }
},
{
 "spacing":-0.8,
 "hconcat":[
  {
   "data":{"name":"ts"},
   "transform":[{"filter":"datum.n>=58"},{"lookup":"n","from":{"data":{"name":"sess"},"key":"n","fields":["lab","st"]}}],
   "columns":3,
   "spacing":{"row":-1.4,"column":-0.8},
   "facet":{"field":"n","type":"ordinal","title":null,"header":{"labels":false,"labelExpr":"''","labelFontSize":0,"labelPadding":0,"title":null}},
   "resolve":{"axis":{"x":"independent","y":"independent"}},
   "spec":{
    "width":95.9,"height":74.4,
    "view":{"stroke":"#3a3a3a","strokeWidth":0.6},
    "layer":[
     {"transform":[{"filter":"datum.x==1"}],"mark":{"type":"rect","fill":"white","stroke":"#b5b5b5","strokeWidth":0.6},
      "encoding":{"x":{"datum":0,"type":"quantitative","scale":{"domain":[-11.25,49.0625],"nice":false,"zero":false},"axis":{"values":[0,10,20,30,40],"title":"Cycles"}},"x2":{"datum":40},
      "y":{"datum":0,"type":"quantitative","scale":{"domain":[-32.8,87.2],"nice":false,"zero":false},"axis":{"values":[0,10,20,30,40,50,60,70,80],"title":"Number of Vehicles"}},"y2":{"datum":80}}},
     {"mark":{"type":"line","strokeWidth":0.8},
      "encoding":{"x":{"field":"x","type":"quantitative","axis":{"values":[0,10,20,30,40],"title":"Cycles"}},
      "y":{"field":"y","type":"quantitative","axis":{"values":[0,10,20,30,40,50,60,70,80],"title":"Number of Vehicles"}},
      "color":{"field":"st","type":"nominal","scale":{"domain":["normal","anomaly"],"range":["#3b3bd1","#d83a3a"]},"legend":null}}},
     {"transform":[{"filter":"datum.x==1"}],"mark":{"type":"text","font":"Liberation Serif","fontSize":11.5,"align":"center","baseline":"alphabetic","color":"#111"},
      "encoding":{"x":{"datum":18.9,"type":"quantitative","axis":{"values":[0,10,20,30,40],"title":"Cycles"}},"y":{"datum":-28.9,"type":"quantitative","axis":{"values":[0,10,20,30,40,50,60,70,80],"title":"Number of Vehicles"}},"text":{"field":"lab"}}}
    ]
   }
  },
  {
   "data":{"values":[{}]},
   "width":95.9,"height":74.4,
   "view":{"stroke":"#3a3a3a","strokeWidth":0.6},
   "mark":{"type":"point","opacity":0},
   "encoding":{}
  }
 ]
}
]
}
